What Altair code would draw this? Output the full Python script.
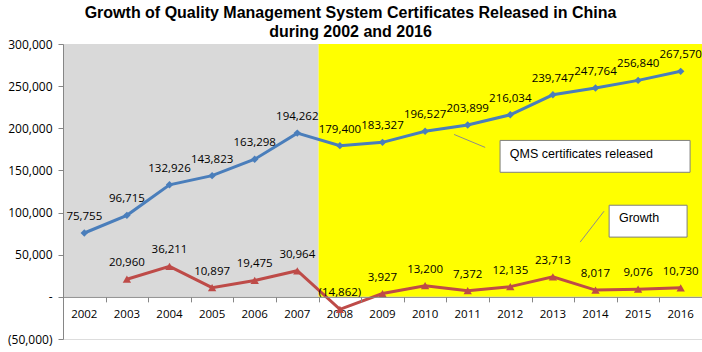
import altair as alt
import pandas as pd

# ---- data ----
years = list(range(2002, 2017))
qms = [75755, 96715, 132926, 143823, 163298, 194262, 179400, 183327,
       196527, 203899, 216034, 239747, 247764, 256840, 267570]
growth_years = list(range(2003, 2017))
growth = [20960, 36211, 10897, 19475, 30964, -14862, 3927, 13200,
          7372, 12135, 23713, 8017, 9076, 10730]

y_ticks = [-50000, 0, 50000, 100000, 150000, 200000, 250000, 300000]
x_boundaries = [2001.5 + i for i in range(16)]

period_start = [2001.5, 2007.5]
period_end = [2007.5, 2016.5]
period_name = ["2002-2007", "2008-2016"]
period_color = ["#D9D9D9", "#FFFF00"]

# callouts (in data units: year, value)
callout_text = ["QMS certificates released", "Growth"]
box_x1 = [2011.76, 2014.32]
box_x2 = [2016.22, 2016.15]
box_y1 = [185600, 108700]
box_y2 = [147800, 70900]
text_x = [2011.99, 2014.55]
text_y = [169000, 93400]
lead_x1 = [2010.68, 2013.64]
lead_y1 = [192700, 65000]
lead_x2 = [2011.41, 2014.20]
lead_y2 = [177300, 101600]

GRAY = "#868686"
FONT = "Open Sans"


def fmt(v):
    return f"({abs(v):,})" if v < 0 else f"{v:,}"


qms_df = pd.DataFrame({"year": years, "value": qms,
                       "label": [fmt(v) for v in qms]})
gr_df = pd.DataFrame({"year": growth_years, "value": growth,
                      "label": [fmt(v) for v in growth]})
per_df = pd.DataFrame({"x1": period_start, "x2": period_end,
                       "name": period_name, "color": period_color,
                       "y1": [0, 0], "y2": [300000, 300000]})
yr_df = pd.DataFrame({"year": years, "label": [str(y) for y in years], "zero": 0})
co_df = pd.DataFrame({"text": callout_text, "bx1": box_x1, "bx2": box_x2,
                      "by1": box_y1, "by2": box_y2, "tx": text_x, "ty": text_y,
                      "lx1": lead_x1, "ly1": lead_y1, "lx2": lead_x2, "ly2": lead_y2})

xs = alt.Scale(domain=[2001.5, 2016.5], nice=False, zero=False)
ys = alt.Scale(domain=[-50000, 300000], nice=False, zero=False)

label_expr = ("datum.value == 0 ? '-\u00a0\u00a0\u00a0' : (datum.value < 0 ? "
              "'(' + format(-datum.value, ',') + ')' : format(datum.value, ','))")

XAX = alt.Axis(values=x_boundaries, labels=False, title=None,
               tickSize=5, tickColor=GRAY, domainColor=GRAY,
               grid=False, offset=-42.14, zindex=1)
YAX = alt.Axis(values=y_ticks, labelExpr=label_expr, title=None,
               tickSize=5, tickColor=GRAY, domainColor=GRAY,
               labelPadding=6, labelFont=FONT, labelFontSize=12,
               labelColor="#000000", grid=False, zindex=1)


def X(f):
    return alt.X(f, scale=xs, axis=XAX, title=None)


def Y(f):
    return alt.Y(f, scale=ys, axis=YAX, title=None)


bg = alt.Chart(per_df).mark_rect().encode(
    x=X("x1:Q"), x2="x2:Q",
    y=Y("y1:Q"), y2="y2:Q",
    color=alt.Color("color:N", scale=None),
)

year_labels = alt.Chart(yr_df).mark_text(
    dy=18, font=FONT, fontSize=11.5, color="#000000", baseline="middle"
).encode(x=X("year:Q"), y=Y("zero:Q"), text="label:N")

BLUE = "#4A7EBB"
RED = "#BE4B48"

qms_line = alt.Chart(qms_df).mark_line(color=BLUE, strokeWidth=3).encode(
    x=X("year:Q"), y=Y("value:Q"))
qms_pts = alt.Chart(qms_df).mark_point(shape="diamond", filled=True, size=55,
                                       color=BLUE, opacity=1).encode(
    x=X("year:Q"), y=Y("value:Q"))
qms_lbl = alt.Chart(qms_df).mark_text(dy=-16, font=FONT, fontSize=11.5,
                                      color="#000000").encode(
    x=X("year:Q"), y=Y("value:Q"), text="label:N")

gr_line = alt.Chart(gr_df).mark_line(color=RED, strokeWidth=3).encode(
    x=X("year:Q"), y=Y("value:Q"))
gr_pts = alt.Chart(gr_df).mark_point(shape="triangle-up", filled=True, size=70,
                                     color=RED, opacity=1).encode(
    x=X("year:Q"), y=Y("value:Q"))
gr_lbl = alt.Chart(gr_df).mark_text(dy=-16, font=FONT, fontSize=11.5,
                                    color="#000000").encode(
    x=X("year:Q"), y=Y("value:Q"), text="label:N")

leaders = alt.Chart(co_df).mark_rule(color="#8C8C8C", strokeWidth=1).encode(
    x=X("lx1:Q"), x2="lx2:Q", y=Y("ly1:Q"), y2="ly2:Q")
boxes = alt.Chart(co_df).mark_rect(fill="#FFFFFF", stroke="#7F7F7F",
                                   strokeWidth=1).encode(
    x=X("bx1:Q"), x2="bx2:Q", y=Y("by1:Q"), y2="by2:Q")
box_text = alt.Chart(co_df).mark_text(align="left", baseline="middle",
                                      font="Liberation Sans", fontSize=12.5,
                                      color="#000000").encode(
    x=X("tx:Q"), y=Y("ty:Q"), text="text:N")

chart = alt.layer(
    bg, year_labels, qms_line, qms_pts, qms_lbl, gr_line, gr_pts, gr_lbl,
    leaders, boxes, box_text,
).properties(
    width=639, height=295,
    autosize=alt.AutoSizeParams(type="none"),
    padding={"left": 63, "top": 44, "right": 0, "bottom": 13},
    title=alt.TitleParams(
        text=["Growth of Quality Management System Certificates Released in China",
              "during 2002 and 2016"],
        font="Liberation Sans", fontSize=16, fontWeight="bold", color="#000000",
        anchor="middle", dx=-32, offset=-2, lineHeight=19,
    ),
).configure_view(stroke=None).configure(background="#FFFFFF")

chart.save("out.html", embed_options={"renderer": "svg", "actions": False})
